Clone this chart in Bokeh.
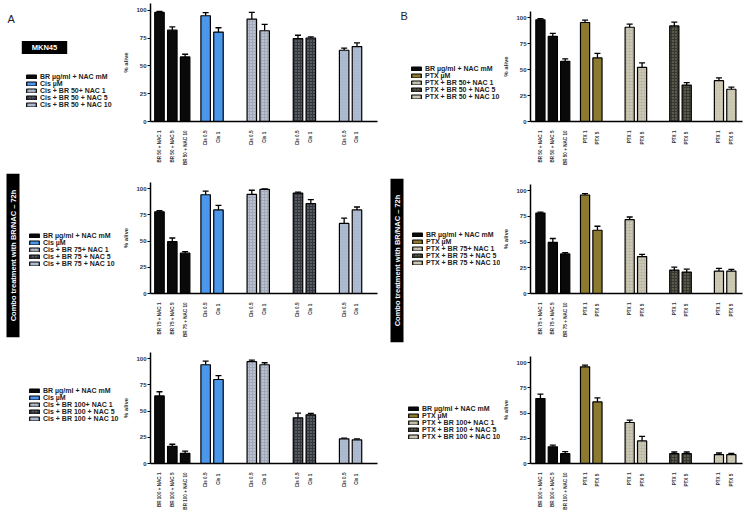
import numpy as np
from bokeh.plotting import figure
from bokeh.layouts import row, column
from bokeh.models import (Range1d, FixedTicker, Legend, LegendItem, Label,
                          Whisker, ColumnDataSource, TeeHead)
from bokeh.embed import file_html
from bokeh.resources import INLINE

# ---------------- data ----------------
BR_DOSES = [50, 75, 100]
NAC_DOSES = [1, 5, 10]
GROUP_SIZES = [3, 2, 2, 2, 2]
CIS_TICKS = ["Cis 0.5", "Cis  1"]
PTX_TICKS = ["PTX 1", "PTX  5"]

# panel A (Cisplatin) - % alive, SEM
a50_vals = [98.0, 82.0, 58.0, 95.0, 80.3, 92.0, 81.5, 74.5, 75.0, 64.0, 67.3]
a50_err = [1.0, 3.0, 2.4, 2.8, 3.9, 6.0, 5.8, 3.0, 1.0, 2.0, 3.3]
a75_vals = [78.0, 49.5, 38.5, 94.3, 79.8, 94.6, 99.4, 95.9, 85.8, 66.9, 79.8]
a75_err = [1.0, 3.5, 1.5, 3.5, 4.4, 4.0, 0.5, 1.0, 3.8, 5.0, 2.8]
a100_vals = [64.5, 16.4, 9.7, 94.3, 80.2, 97.2, 94.3, 43.7, 46.5, 23.6, 22.6]
a100_err = [4.0, 2.0, 2.2, 3.5, 3.8, 1.5, 1.9, 4.4, 1.3, 0.6, 1.0]

# panel B (Paclitaxel)
b50_vals = [98.0, 82.0, 58.0, 95.4, 61.3, 90.8, 52.1, 92.1, 35.1, 39.3, 31.1]
b50_err = [1.0, 3.0, 2.4, 2.3, 4.3, 3.0, 4.3, 3.6, 2.3, 2.7, 2.0]
b75_vals = [78.2, 49.7, 38.5, 95.8, 61.5, 71.8, 35.9, 22.8, 20.8, 21.8, 21.8]
b75_err = [1.0, 3.8, 1.3, 1.3, 3.9, 2.6, 2.2, 2.8, 2.9, 2.6, 1.6]
b100_vals = [64.3, 16.6, 9.7, 95.8, 61.0, 40.6, 22.4, 9.7, 9.7, 8.8, 8.8]
b100_err = [4.5, 1.6, 2.0, 1.6, 4.0, 2.3, 4.5, 1.7, 1.7, 1.6, 1.3]

Y_TICKS = [0, 25, 50, 75, 100]

# ---------------- style ----------------
FONT = "Liberation Sans"
GAP_FIRST = 1.6
GAP = 2.6
BAR_W = 0.74
A_COLORS = ["#0a0a0a", "#4a97ec", "#a0a9b9", "#33363d", "#a9b6cc"]
B_COLORS = ["#0a0a0a", "#8c7a30", "#bcb8a3", "#38382f", "#c8c4ae"]
A_HATCH_COL = [None, None, "#e2e6ee", "#8c929c", "#bcc6d8"]
B_HATCH_COL = [None, None, "#e6e3d6", "#8e8c80", "#d6d3c2"]
HATCHES = [None, None, "dot", "dot", "dot"]

ROW_H = [170, 170, 172]
ROW_TOP = {"A": [3, 12, 12], "B": [11, 14, 16]}
ROW_BOTTOM = [49, 46, 48]
TOTAL_H = sum(ROW_H)


def bar_positions():
    pos, x = [], 0.0
    for gi, n in enumerate(GROUP_SIZES):
        if gi == 1:
            x += GAP_FIRST - 1
        elif gi > 1:
            x += GAP - 1
        for _ in range(n):
            pos.append(round(x, 2))
            x += 1
    return pos


def tick_labels(dose, drug_ticks):
    labs = [f"BR {dose} + NAC {n}" for n in NAC_DOSES]
    for _ in range(len(GROUP_SIZES) - 1):
        labs += drug_ticks
    return labs


def legend_labels(dose, drug):
    return ["BR \u00b5g/ml + NAC mM", f"{drug} \u00b5M",
            f"{drug} + BR {dose}+ NAC 1", f"{drug} + BR {dose} + NAC 5",
            f"{drug} + BR {dose} + NAC 10"]


def bar_style(gi, colors, hcols):
    kw = dict(fill_color=colors[gi], line_color="black", line_width=1.2)
    if HATCHES[gi]:
        kw.update(hatch_pattern=HATCHES[gi], hatch_color=hcols[gi],
                  hatch_scale=3, hatch_weight=1)
    return kw


def make_chart(vals, errs, dose, drug_ticks, colors, hcols, side, rowi):
    width = 260 if side == "A" else 248
    left = 29 if side == "A" else 27
    right = 3 if side == "A" else 6
    pos = bar_positions()
    xr = Range1d(-0.7, 17.0) if side == "A" else Range1d(-0.8, 16.3)
    p = figure(width=width, height=ROW_H[rowi], x_range=xr,
               y_range=Range1d(0, 106),
               output_backend="svg", toolbar_location=None,
               min_border_left=left, min_border_right=right,
               min_border_top=ROW_TOP[side][rowi],
               min_border_bottom=ROW_BOTTOM[rowi])
    p.outline_line_color = None
    p.xgrid.visible = False
    p.ygrid.visible = False

    grp = []
    for gi, n in enumerate(GROUP_SIZES):
        grp += [gi] * n
    for gi in range(len(GROUP_SIZES)):
        idx = [i for i, g in enumerate(grp) if g == gi]
        src = ColumnDataSource(dict(x=[pos[i] for i in idx],
                                    y=[vals[i] for i in idx]))
        p.vbar(x="x", top="y", width=BAR_W, source=src,
               **bar_style(gi, colors, hcols))

    esrc = ColumnDataSource(dict(x=pos, lo=vals,
                                 hi=[v + e for v, e in zip(vals, errs)]))
    p.add_layout(Whisker(base="x", lower="lo", upper="hi", source=esrc,
                         line_color="black", line_width=1.3,
                         upper_head=TeeHead(size=6, line_color="black",
                                            line_width=1.3),
                         lower_head=None))

    p.yaxis.ticker = FixedTicker(ticks=Y_TICKS)
    p.yaxis.minor_tick_line_color = None
    p.yaxis.major_tick_in = 0
    p.yaxis.major_tick_out = 3
    p.yaxis.axis_line_width = 1.5
    p.yaxis.major_label_text_font = FONT
    p.yaxis.major_label_text_font_size = "6px"
    p.yaxis.major_label_text_font_style = "bold"
    p.yaxis.major_label_text_color = "#333"
    p.yaxis.major_label_standoff = 1
    p.yaxis.axis_label = "% alive"
    p.yaxis.axis_label_text_font = FONT
    p.yaxis.axis_label_text_font_size = "6px"
    p.yaxis.axis_label_text_font_style = "bold"
    p.yaxis.axis_label_text_color = "#333"
    p.yaxis.axis_label_standoff = 4

    p.xaxis.ticker = FixedTicker(ticks=pos)
    p.xaxis.major_label_overrides = {x: t for x, t in
                                     zip(pos, tick_labels(dose, drug_ticks))}
    p.xaxis.major_label_orientation = np.pi / 2
    p.xaxis.major_tick_line_color = None
    p.xaxis.minor_tick_line_color = None
    p.xaxis.axis_line_width = 1.5
    p.xaxis.major_label_text_font = FONT
    p.xaxis.major_label_text_font_size = "4.6px"
    p.xaxis.major_label_text_font_style = "bold"
    p.xaxis.major_label_text_color = "#333"
    p.xaxis.major_label_standoff = 3
    return p


def make_side(drug, colors, hcols, leg_pos):
    width = 120
    p = figure(width=width, height=TOTAL_H, x_range=Range1d(0, width),
               y_range=Range1d(0, TOTAL_H), output_backend="svg",
               toolbar_location=None, x_axis_location=None,
               y_axis_location=None, min_border=0)
    p.outline_line_color = None
    p.xgrid.visible = False
    p.ygrid.visible = False
    # swatch renderers for the legends: one zero-height bar far off the range
    rends = [p.vbar(x=[-1000], top=[0], width=1, **bar_style(gi, colors, hcols))
             for gi in range(len(GROUP_SIZES))]
    for dose, (lx, ly) in zip(BR_DOSES, leg_pos):
        items = [LegendItem(label=lab, renderers=[r])
                 for lab, r in zip(legend_labels(dose, drug), rends)]
        leg = Legend(items=items, location=(lx, ly))
        leg.label_text_font = FONT
        leg.label_text_font_size = "7px"
        leg.label_text_font_style = "bold"
        leg.label_text_color = "#222"
        leg.glyph_width = 12
        leg.glyph_height = 5
        leg.label_height = 5
        leg.label_standoff = 3
        leg.spacing = 0
        leg.padding = 0
        leg.margin = 0
        leg.border_line_color = None
        leg.background_fill_alpha = 0
        p.add_layout(leg)
    return p


sideA = make_side("Cis", A_COLORS, A_HATCH_COL,
                  [(25, 404), (28, 245), (28, 90)])
sideB = make_side("PTX", B_COLORS, B_HATCH_COL,
                  [(30, 412), (31, 246), (27, 72)])

sideA.add_layout(Label(x=7, y=TOTAL_H - 12, text="A", text_font=FONT,
                       text_font_size="11px", text_baseline="top",
                       text_color="#222"))
sideB.add_layout(Label(x=20, y=TOTAL_H - 9, text="B", text_font=FONT,
                       text_font_size="11px", text_baseline="top",
                       text_color="#222"))
sideA.add_layout(Label(x=44, y=TOTAL_H - 47, text="MKN45", text_font=FONT,
                       text_font_size="7.5px", text_font_style="bold",
                       text_color="white", text_align="center",
                       text_baseline="middle", background_fill_color="black",
                       padding=dict(left=10, right=10, top=2, bottom=2)))
COMBO = "Combo treatment with BR/NAC \u2013 72h"
for fig, xx, yy in [(sideA, 12.5, TOTAL_H - 255), (sideB, 16.5, TOTAL_H - 260)]:
    fig.add_layout(Label(x=xx, y=yy, text=COMBO, angle=np.pi / 2,
                         text_font=FONT, text_font_size="7.5px",
                         text_font_style="bold", text_color="white",
                         text_align="center", text_baseline="middle",
                         background_fill_color="black",
                         padding=dict(left=16, right=16, top=2, bottom=2)))

a1 = make_chart(a50_vals, a50_err, 50, CIS_TICKS, A_COLORS, A_HATCH_COL, "A", 0)
a2 = make_chart(a75_vals, a75_err, 75, CIS_TICKS, A_COLORS, A_HATCH_COL, "A", 1)
a3 = make_chart(a100_vals, a100_err, 100, CIS_TICKS, A_COLORS, A_HATCH_COL, "A", 2)
b1 = make_chart(b50_vals, b50_err, 50, PTX_TICKS, B_COLORS, B_HATCH_COL, "B", 0)
b2 = make_chart(b75_vals, b75_err, 75, PTX_TICKS, B_COLORS, B_HATCH_COL, "B", 1)
b3 = make_chart(b100_vals, b100_err, 100, PTX_TICKS, B_COLORS, B_HATCH_COL, "B", 2)

layout = row(sideA, column(a1, a2, a3), sideB, column(b1, b2, b3))
open("out.html", "w").write(file_html(layout, INLINE))
